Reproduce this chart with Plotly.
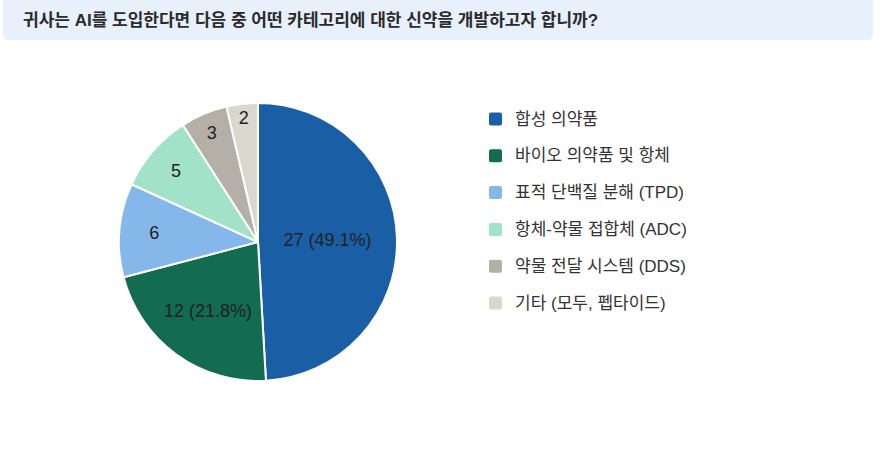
import plotly.graph_objects as go

W, H = 889, 453

# data
categories = ["합성 의약품", "바이오 의약품 및 항체", "표적 단백질 분해 (TPD)",
              "항체-약물 접합체 (ADC)", "약물 전달 시스템 (DDS)", "기타 (모두, 펩타이드)"]
counts = [27, 12, 6, 5, 3, 2]
colors = ["#1A5EA6", "#136B50", "#86B7EA", "#A2E2C9", "#B4B0A7", "#DAD7CE"]
title = "귀사는 AI를 도입한다면 다음 중 어떤 카테고리에 대한 신약을 개발하고자 합니까?"

FONT = "Liberation Sans, Noto Sans CJK KR"


def px(x):
    return x / W


def py(y):
    return 1 - y / H


templates = ["%{value} (%{percent:.1%})", "%{value} (%{percent:.1%})",
             "%{value}", "%{value}", "%{value}", "%{value}"]

cx, cy, r = 258, 242, 139

fig = go.Figure(go.Pie(
    labels=categories,
    values=counts,
    sort=False,
    direction="clockwise",
    rotation=0,
    marker=dict(colors=colors, line=dict(color="white", width=2)),
    texttemplate=templates,
    textposition="inside",
    insidetextorientation="horizontal",
    textfont=dict(family=FONT, size=18, color="#222222"),
    hoverinfo="label+value+percent",
    showlegend=False,
    domain=dict(x=[px(cx - r), px(cx + r)], y=[py(cy + r), py(cy - r)]),
))

# title banner
x0, x1, y0, y1, rr = 3, 873, -6, 40, 6
path = (f"M {px(x0 + rr)} {py(y0)} L {px(x1 - rr)} {py(y0)} "
        f"Q {px(x1)} {py(y0)} {px(x1)} {py(y0 + rr)} L {px(x1)} {py(y1 - rr)} "
        f"Q {px(x1)} {py(y1)} {px(x1 - rr)} {py(y1)} L {px(x0 + rr)} {py(y1)} "
        f"Q {px(x0)} {py(y1)} {px(x0)} {py(y1 - rr)} L {px(x0)} {py(y0 + rr)} "
        f"Q {px(x0)} {py(y0)} {px(x0 + rr)} {py(y0)} Z")
shapes = [dict(type="path", xref="paper", yref="paper", path=path,
               fillcolor="#E7F0FB", line=dict(width=0), layer="below")]
annotations = [dict(text=f"<b>{title}</b>", x=px(21), y=py(20), xref="paper", yref="paper",
                    xanchor="left", yanchor="middle", showarrow=False,
                    font=dict(family=FONT, size=17, color="#2B2B2B"))]

# legend
leg_x, leg_y, step, s = 489, 119, 36.8, 13
for i, (cat, col) in enumerate(zip(categories, colors)):
    yc = leg_y + i * step
    a, b, c, d, k = leg_x, leg_x + s, yc - s / 2, yc + s / 2, 2
    p = (f"M {px(a + k)} {py(c)} L {px(b - k)} {py(c)} Q {px(b)} {py(c)} {px(b)} {py(c + k)} "
         f"L {px(b)} {py(d - k)} Q {px(b)} {py(d)} {px(b - k)} {py(d)} L {px(a + k)} {py(d)} "
         f"Q {px(a)} {py(d)} {px(a)} {py(d - k)} L {px(a)} {py(c + k)} Q {px(a)} {py(c)} {px(a + k)} {py(c)} Z")
    shapes.append(dict(type="path", xref="paper", yref="paper", path=p,
                       fillcolor=col, line=dict(width=0)))
    annotations.append(dict(text=cat, x=px(513), y=py(yc), xref="paper", yref="paper",
                            xanchor="left", yanchor="middle", showarrow=False,
                            font=dict(family=FONT, size=17, color="#333333")))

fig.update_layout(
    width=W, height=H,
    margin=dict(l=0, r=0, t=0, b=0),
    paper_bgcolor="white",
    plot_bgcolor="white",
    shapes=shapes,
    annotations=annotations,
)

fig.write_html("out.html", config={"displayModeBar": False},
               post_script="document.body.style.margin='0';")
